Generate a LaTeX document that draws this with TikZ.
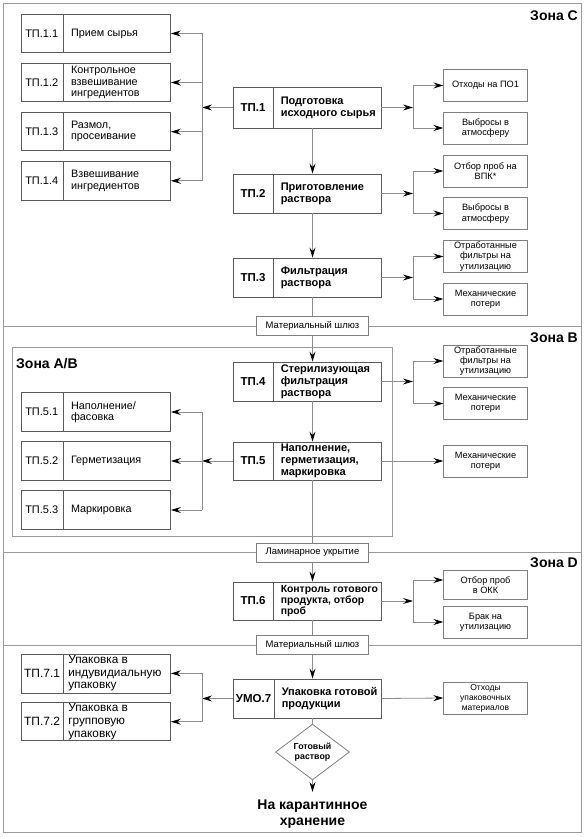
\documentclass[tikz,border=0pt]{standalone}
\usepackage{fontspec}
\setmainfont{Liberation Sans}
\usetikzlibrary{arrows.meta,calc,shapes.geometric}
\definecolor{bordc}{HTML}{5A5A5A}
\definecolor{lightbord}{HTML}{7F7F7F}
\definecolor{linec}{HTML}{8C8C8C}
\definecolor{framec}{HTML}{9A9A9A}
\tikzset{
  mainbox/.style={draw=bordc, line width=0.9pt, fill=white, inner sep=0},
  mainsep/.style={draw=bordc, line width=0.9pt},
  mainlbl/.style={font=\fontsize{11.5}{13}\selectfont\bfseries, inner sep=0},
  maintxt/.style={font=\fontsize{11}{12}\selectfont\bfseries, align=left, inner sep=0, xshift=7pt},
  maincbox/.style={mainbox},
  maincsep/.style={mainsep},
  mainclbl/.style={mainlbl},
  mainctxt/.style={font=\fontsize{10.4}{11.3}\selectfont\bfseries, align=left, inner sep=0, xshift=7pt},
  subbox/.style={draw=bordc, line width=0.8pt, fill=white, inner sep=0},
  subsep/.style={draw=bordc, line width=0.8pt},
  sublbl/.style={font=\fontsize{11}{12}\selectfont, inner sep=0},
  subtxt/.style={font=\fontsize{10.8}{11.4}\selectfont, align=left, inner sep=0, xshift=8pt},
  pkbox/.style={subbox},
  pksep/.style={subsep},
  pklbl/.style={font=\fontsize{12}{13}\selectfont, inner sep=0},
  pktxt/.style={font=\fontsize{11.8}{12.6}\selectfont, align=left, inner sep=0, xshift=5pt},
  outbox/.style={draw=lightbord, line width=0.8pt, minimum width=83.5pt, minimum height=32pt,
    inner sep=0, align=center, font=\fontsize{9.2}{10.4}\selectfont},
  gate/.style={draw=lightbord, fill=white, line width=0.8pt, minimum width=112pt,
    minimum height=19pt, inner sep=0, font=\fontsize{9.5}{11}\selectfont},
  zonelbl/.style={font=\fontsize{14}{16}\selectfont\bfseries, inner sep=0},
  zoneline/.style={draw=framec, line width=0.8pt},
  conn/.style={draw=linec, line width=0.8pt},
  flow/.style={conn, -{Stealth[length=10pt,width=6pt,inset=3.5pt,color=black]}},
}
\newcommand{\procbox}[9]{%
  \node[#9box, minimum width=#4pt, minimum height=#5pt] (#1) at (#2,#3) {};
  \draw[#9sep] ([xshift=#6pt]#1.north west) -- ([xshift=#6pt]#1.south west);
  \node[#9lbl] (#1l) at ($(#1.west)!0.5!([xshift=#6pt]#1.west)$) {#7};
  \node[#9txt, anchor=west] (#1t) at ([xshift=#6pt]#1.west) {#8};
}
\begin{document}
\begin{tikzpicture}[x=1pt,y=-1pt]
\useasboundingbox (0,0) rectangle (585,837);
% frame and zones
\node[draw=framec, line width=0.8pt, minimum width=578pt, minimum height=829pt, inner sep=0] (frame) at (292,417.5) {};
\node[draw=framec, line width=0.8pt, minimum width=380pt, minimum height=189pt, inner sep=0] (zab) at (202,441.5) {};
\node[gate] (g1) at (312.5,326) {Материальный шлюз};
\node[gate] (g2) at (312.5,552.5) {Ламинарное укрытие};
\node[gate] (g3) at (312.5,645) {Материальный шлюз};
\draw[zoneline] (frame.west |- g1.center) -- (g1.west);
\draw[zoneline] (g1.east) -- (frame.east |- g1.center);
\draw[zoneline] (frame.west |- g2.center) -- (g2.west);
\draw[zoneline] (g2.east) -- (frame.east |- g2.center);
\draw[zoneline] (frame.west |- g3.center) -- (g3.west);
\draw[zoneline] (g3.east) -- (frame.east |- g3.center);
\node[zonelbl, anchor=base east] (zc) at (578,21) {Зона С};
\node[zonelbl, anchor=base east] (zb) at (578,342) {Зона В};
\node[zonelbl, anchor=base east] (zd) at (578,567) {Зона D};
\node[zonelbl, anchor=base west] (zabl) at (16,368) {Зона А/В};
% main process boxes
\procbox{tp1}{307}{107.5}{148}{41}{41}{ТП.1}{Подготовка\\исходного сырья}{main}
\procbox{tp2}{307}{193.5}{148}{39}{41}{ТП.2}{Приготовление\\раствора}{main}
\procbox{tp3}{307}{277.5}{148}{39}{41}{ТП.3}{Фильтрация\\раствора}{main}
\procbox{tp4}{307}{381.5}{148}{39}{41}{ТП.4}{Стерилизующая\\фильтрация\\раствора}{main}
\procbox{tp5}{307}{461}{148}{38}{41}{ТП.5}{Наполнение,\\герметизация,\\маркировка}{main}
\procbox{tp6}{307}{601}{148}{38}{41}{ТП.6}{Контроль готового\\продукта, отбор\\проб}{mainc}
\procbox{umo7}{307}{698.5}{148}{39}{42}{УМО.7}{Упаковка готовой\\продукции}{main}
% sub boxes
\procbox{s11}{95.75}{33.5}{149.5}{38.5}{42.3}{ТП.1.1}{Прием сырья}{sub}
\procbox{s12}{95.75}{82.5}{149.5}{38.5}{42.3}{ТП.1.2}{Контрольное\\взвешивание\\ингредиентов}{sub}
\procbox{s13}{95.75}{131.7}{149.5}{38}{42.3}{ТП.1.3}{Размол,\\просеивание}{sub}
\procbox{s14}{95.75}{180.8}{149.5}{38.5}{42.3}{ТП.1.4}{Взвешивание\\ингредиентов}{sub}
\procbox{s51}{95.75}{412}{149.5}{38.5}{42.3}{ТП.5.1}{Наполнение/\\фасовка}{sub}
\procbox{s52}{95.75}{461}{149.5}{38.5}{42.3}{ТП.5.2}{Герметизация}{sub}
\procbox{s53}{95.75}{510}{149.5}{38.5}{42.3}{ТП.5.3}{Маркировка}{sub}
\procbox{s71}{96}{673.4}{149}{39}{42}{ТП.7.1}{Упаковка в\\индувидиальную\\упаковку}{pk}
\procbox{s72}{96}{721.7}{149}{38}{42}{ТП.7.2}{Упаковка в\\групповую\\упаковку}{pk}
% output boxes
\node[outbox] (o1) at (485.5,85.5) {Отходы на ПО1};
\node[outbox] (o2) at (485.5,128) {Выбросы в\\атмосферу};
\node[outbox] (o3) at (485.5,171) {Отбор проб на\\ВПК*};
\node[outbox] (o4) at (485.5,213.5) {Выбросы в\\атмосферу};
\node[outbox] (o5) at (485.5,256.5) {Отработанные\\фильтры на\\утилизацию};
\node[outbox] (o6) at (485.5,299) {Механические\\потери};
\node[outbox] (o7) at (485.5,361) {Отработанные\\фильтры на\\утилизацию};
\node[outbox] (o8) at (485.5,403.5) {Механические\\потери};
\node[outbox] (o9) at (485.5,461) {Механические\\потери};
\node[outbox, minimum height=29pt] (o10) at (485.5,585) {Отбор проб\\в ОКК};
\node[outbox] (o11) at (485.5,622) {Брак на\\утилизацию};
\node[outbox, font=\fontsize{8.5}{10}\selectfont] (o12) at (485.5,698) {Отходы\\упаковочных\\материалов};
% diamond and final text
\node[diamond, draw=lightbord, line width=0.8pt, minimum width=74pt, minimum height=41pt, inner sep=0,
  align=center, font=\fontsize{8.8}{9.8}\selectfont\bfseries] (dia) at (312.5,752) {Готовый\\раствор};
\node[font=\fontsize{14}{15.5}\selectfont\bfseries, align=center, anchor=north, inner xsep=0, inner ysep=8pt]
  (final) at (312.5,792) {На карантинное\\хранение};
% main column
\coordinate (col) at (312.5,0);
\draw[flow] (tp1.south -| col) -- (tp2.north -| col);
\draw[flow] (tp2.south -| col) -- (tp3.north -| col);
\draw[conn] (tp3.south -| col) -- (g1.north -| col);
\draw[flow] (g1.south -| col) -- (tp4.north -| col);
\draw[flow] (tp4.south -| col) -- (tp5.north -| col);
\draw[conn] (tp5.south -| col) -- (g2.north -| col);
\draw[flow] (g2.south -| col) -- (tp6.north -| col);
\draw[conn] (tp6.south -| col) -- (g3.north -| col);
\draw[flow] (g3.south -| col) -- (umo7.north -| col);
\draw[conn] (umo7.south -| col) -- (dia.north);
\draw[flow] (dia.south) -- (final.north);
% right branches
\coordinate (j1) at (413,107.5);
\draw[flow] (tp1.east) -- (j1);
\draw[conn] (j1 |- o1.west) -- (j1 |- o2.west);
\draw[flow] (j1 |- o1.west) -- (o1.west);
\draw[flow] (j1 |- o2.west) -- (o2.west);
\coordinate (j2) at (413,193.5);
\draw[flow] (tp2.east) -- (j2);
\draw[conn] (j2 |- o3.west) -- (j2 |- o4.west);
\draw[flow] (j2 |- o3.west) -- (o3.west);
\draw[flow] (j2 |- o4.west) -- (o4.west);
\coordinate (j3) at (413,277.5);
\draw[flow] (tp3.east) -- (j3);
\draw[conn] (j3 |- o5.west) -- (j3 |- o6.west);
\draw[flow] (j3 |- o5.west) -- (o5.west);
\draw[flow] (j3 |- o6.west) -- (o6.west);
\coordinate (j4) at (413,381.5);
\draw[flow] (tp4.east) -- (j4);
\draw[conn] (j4 |- o7.west) -- (j4 |- o8.west);
\draw[flow] (j4 |- o7.west) -- (o7.west);
\draw[flow] (j4 |- o8.west) -- (o8.west);
\draw[flow] (tp5.east) -- (o9.west);
\coordinate (j6) at (413,601);
\coordinate (b10) at (413,580);
\draw[flow] (tp6.east) -- (j6);
\draw[conn] (b10) -- (j6 |- o11.west);
\draw[flow] (b10) -- (b10 -| o10.west);
\draw[flow] (j6 |- o11.west) -- (o11.west);
\draw[flow] (umo7.east) -- (o12.west);
% left branches
\coordinate (k1) at (202,107.5);
\draw[flow] (tp1.west) -- (k1);
\draw[conn] (k1 |- s11.east) -- (k1 |- s14.east);
\foreach \s in {s11,s12,s13,s14} {\draw[flow] (k1 |- \s.east) -- (\s.east);}
\coordinate (k5) at (202,461);
\draw[flow] (tp5.west) -- (k5);
\draw[conn] (k5 |- s51.east) -- (k5 |- s53.east);
\foreach \s in {s51,s52,s53} {\draw[flow] (k5 |- \s.east) -- (\s.east);}
\coordinate (k7) at (202,698.5);
\draw[flow] (umo7.west) -- (k7);
\draw[conn] (k7 |- s71.east) -- (k7 |- s72.east);
\foreach \s in {s71,s72} {\draw[flow] (k7 |- \s.east) -- (\s.east);}
\end{tikzpicture}
\end{document}
